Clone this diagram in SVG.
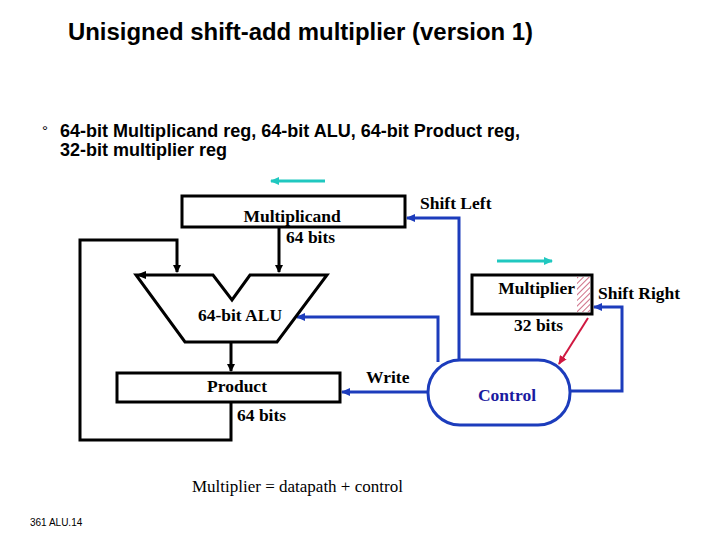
<svg xmlns="http://www.w3.org/2000/svg" width="720" height="540" viewBox="0 0 720 540">
<style>
.t{font-family:"Liberation Serif",serif;font-weight:bold;font-size:17.5px;fill:#000}
.a{font-family:"Liberation Sans",Arial,sans-serif}
.blk{fill:none;stroke:#000;stroke-width:3}
.blu{fill:none;stroke:#1c3cbc;stroke-width:3}
</style>
<defs>
<marker id="ak" markerWidth="8" markerHeight="8" refX="7" refY="4" orient="auto" markerUnits="userSpaceOnUse"><path d="M0,0 L8,4 L0,8 Z" fill="#000"/></marker>
<marker id="ab" markerWidth="9" markerHeight="8" refX="8" refY="4" orient="auto" markerUnits="userSpaceOnUse"><path d="M0,0 L9,4 L0,8 Z" fill="#1c3cbc"/></marker>
<marker id="ar" markerWidth="9" markerHeight="8" refX="8" refY="4" orient="auto" markerUnits="userSpaceOnUse"><path d="M0,0 L9,4 L0,8 Z" fill="#d01840"/></marker>
<marker id="at" markerWidth="9" markerHeight="8" refX="8" refY="4" orient="auto" markerUnits="userSpaceOnUse"><path d="M0,0 L9,4 L0,8 Z" fill="#20c8c0"/></marker>
<pattern id="hatch" width="4" height="4" patternUnits="userSpaceOnUse" patternTransform="rotate(45)"><rect width="4" height="4" fill="#fff"/><line x1="0" y1="0" x2="0" y2="4" stroke="#c04060" stroke-width="1.5"/></pattern>
</defs>
<rect width="720" height="540" fill="#fff"/>
<text class="a" x="68" y="40" font-size="23" font-weight="bold" textLength="465" lengthAdjust="spacingAndGlyphs">Unisigned shift-add multiplier (version 1)</text>
<text class="a" x="42" y="136" font-size="15">°</text>
<text class="a" x="60" y="137" font-size="18" font-weight="bold" textLength="460" lengthAdjust="spacingAndGlyphs">64-bit Multiplicand reg, 64-bit ALU, 64-bit Product reg,</text>
<text class="a" x="60" y="156" font-size="18" font-weight="bold" textLength="167" lengthAdjust="spacingAndGlyphs">32-bit multiplier reg</text>

<g id="connectors">
<line x1="325" y1="181" x2="271" y2="181" stroke="#20c8c0" stroke-width="3" marker-end="url(#at)"/>
<line x1="497" y1="261" x2="552" y2="261" stroke="#20c8c0" stroke-width="3" marker-end="url(#at)"/>
<polyline class="blk" points="279,227 279,272" marker-end="url(#ak)"/>
<polyline class="blk" points="231,402 231,440 80,440 80,240 177,240 177,272" marker-end="url(#ak)"/>
<polyline class="blk" points="231,342 231,371" marker-end="url(#ak)"/>
<polyline class="blu" points="459,360 459,218 407,218" marker-end="url(#ab)"/>
<polyline class="blu" points="438,362 438,317 297,317" marker-end="url(#ab)"/>
<polyline class="blu" points="427,392 342,392" marker-end="url(#ab)"/>
<polyline class="blu" points="570,391 622,391 622,307 594,307" marker-end="url(#ab)"/>
<line x1="588" y1="318" x2="559" y2="364" stroke="#d01840" stroke-width="2" marker-end="url(#ar)"/>
</g>

<g id="multiplicand">
<rect x="182" y="196" width="223" height="31" class="blk" fill="#fff"/>
<text class="t" x="292" y="222" text-anchor="middle">Multiplicand</text>
<text class="t" x="286" y="243">64 bits</text>
<text class="t" x="420" y="209">Shift Left</text>
</g>

<g id="alu">
<polygon class="blk" points="136,275 213,275 232,300 250,275 327,275 277,342 185,342"/>
<path d="M146,271 L136,275 L146,279 Z" fill="#000"/>
<text class="t" x="240" y="321" text-anchor="middle">64-bit ALU</text>
</g>

<g id="product">
<rect x="117" y="373" width="223" height="29" class="blk" fill="#fff"/>
<text class="t" x="237" y="392" text-anchor="middle">Product</text>
<text class="t" x="237" y="421">64 bits</text>
<text class="t" x="366" y="383">Write</text>
</g>

<g id="multiplier">
<rect x="472" y="275" width="120" height="39" class="blk" fill="#fff"/>
<rect x="577" y="277" width="13" height="35" fill="url(#hatch)"/>
<text class="t" x="575" y="294" text-anchor="end">Multiplier</text>
<text class="t" x="598" y="299">Shift Right</text>
<text class="t" x="514" y="331">32 bits</text>
</g>

<g id="control">
<rect x="428" y="360" width="142" height="65" rx="32" ry="32" class="blu" fill="#fff"/>
<text class="t" x="507" y="401" text-anchor="middle" style="fill:#1a1aa0">Control</text>
</g>

<text x="192" y="492" font-family="Liberation Serif,serif" font-size="17">Multiplier = datapath + control</text>
<text class="a" x="30" y="526" font-size="10">361 ALU.14</text>
</svg>
